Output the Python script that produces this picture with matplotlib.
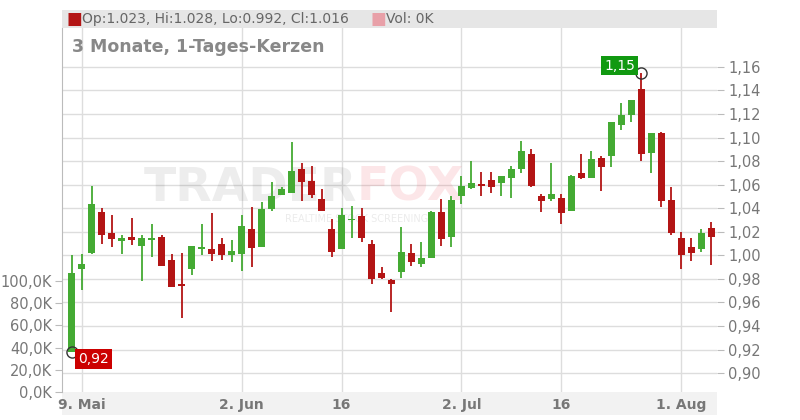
import matplotlib
matplotlib.use("Agg")
import matplotlib.pyplot as plt
from matplotlib.patches import Rectangle

opens = [0.918, 0.988, 1.002, 1.037, 1.019, 1.012, 1.016, 1.008, 1.013, 1.016, 0.996, 0.976, 0.988,
         1.005, 1.005, 1.010, 1.000, 1.001, 1.022, 1.007, 1.039, 1.051, 1.053, 1.073, 1.063, 1.048,
         1.022, 1.005, 1.030, 1.033, 1.010, 0.985, 0.979, 0.986, 1.002, 0.993, 0.998, 1.037, 1.016,
         1.050, 1.057, 1.060, 1.064, 1.061, 1.066, 1.073, 1.086, 1.050, 1.048, 1.049, 1.038, 1.070,
         1.066, 1.083, 1.084, 1.111, 1.119, 1.141, 1.087, 1.104, 1.047, 1.015, 1.007, 1.005, 1.023]
highs = [1.000, 1.001, 1.059, 1.040, 1.034, 1.017, 1.032, 1.017, 1.027, 1.017, 1.001, 1.002, 1.008,
         1.027, 1.036, 1.015, 1.013, 1.034, 1.041, 1.045, 1.062, 1.058, 1.096, 1.078, 1.076, 1.056,
         1.031, 1.040, 1.042, 1.040, 1.013, 0.990, 0.980, 1.024, 1.010, 1.011, 1.038, 1.048, 1.050,
         1.067, 1.080, 1.071, 1.071, 1.067, 1.076, 1.097, 1.090, 1.052, 1.078, 1.052, 1.068, 1.086,
         1.089, 1.084, 1.113, 1.129, 1.132, 1.155, 1.104, 1.105, 1.058, 1.020, 1.015, 1.022, 1.028]
lows = [0.918, 0.971, 1.001, 1.010, 1.007, 1.001, 1.009, 0.978, 0.999, 0.991, 0.973, 0.947, 0.983,
        1.000, 0.995, 0.996, 0.994, 0.987, 0.990, 1.007, 1.038, 1.051, 1.053, 1.046, 1.049, 1.038,
        0.999, 1.005, 1.015, 1.011, 0.976, 0.980, 0.952, 0.981, 0.991, 0.990, 0.998, 1.008, 1.007,
        1.044, 1.056, 1.050, 1.053, 1.050, 1.049, 1.070, 1.058, 1.037, 1.046, 1.027, 1.038, 1.065,
        1.066, 1.055, 1.075, 1.106, 1.113, 1.080, 1.070, 1.041, 1.017, 0.988, 0.995, 1.003, 0.992]
closes = [0.985, 0.993, 1.044, 1.017, 1.014, 1.015, 1.013, 1.015, 1.015, 0.991, 0.973, 0.974, 1.008,
          1.007, 1.001, 1.000, 1.004, 1.025, 1.006, 1.039, 1.050, 1.056, 1.072, 1.062, 1.051, 1.038,
          1.003, 1.034, 1.031, 1.015, 0.980, 0.981, 0.976, 1.003, 0.994, 0.998, 1.037, 1.014, 1.047,
          1.059, 1.061, 1.059, 1.058, 1.067, 1.073, 1.089, 1.059, 1.046, 1.052, 1.036, 1.067, 1.066,
          1.082, 1.075, 1.113, 1.119, 1.132, 1.086, 1.104, 1.046, 1.019, 1.000, 1.002, 1.019, 1.016]

date_idx = [1, 17, 27, 39, 49, 61]
date_labels = ["9. Mai", "2. Jun", "16", "2. Jul", "16", "1. Aug"]
price_ticks = [0.90, 0.92, 0.94, 0.96, 0.98, 1.00, 1.02, 1.04, 1.06, 1.08, 1.10, 1.12, 1.14, 1.16]
vol_ticks = [0, 20, 40, 60, 80, 100]

GREEN = "#44aa33"
RED = "#b31515"
GRID = "#dddddd"
TXT = "#777777"

fig = plt.figure(figsize=(8, 4.2), dpi=100)
fig.patch.set_facecolor("white")

# header strip and bottom strip
fig.patches.append(Rectangle((62/800, 392/420), 655/800, 18/420, transform=fig.transFigure,
                             facecolor="#e6e6e6", edgecolor="none", zorder=-5))
fig.patches.append(Rectangle((62/800, 5/420), 655/800, 23/420, transform=fig.transFigure,
                             facecolor="#f2f2f2", edgecolor="none", zorder=-5))

ax = fig.add_axes([62/800, 28/420, 655/800, 364/420])
ax.set_facecolor("none")
n = len(opens)
ax.set_xlim(-1, n - 0.4)
ax.set_ylim(0.884, 1.193)

# volume axis on the left (created first so it does not steal the price ticks)
vax = ax.twinx()
vax.set_ylim(0, 328)
vax.yaxis.tick_left()
vax.yaxis.set_label_position("left")
vax.set_yticks(vol_ticks)
vax.set_yticklabels([f"{v:.1f}K".replace(".", ",") for v in vol_ticks])
vax.tick_params(axis="y", labelcolor=TXT, color="#bbbbbb", labelsize=10.5, length=5, pad=2,
                left=True, labelleft=True, right=False, labelright=False)
for s in vax.spines.values():
    s.set_visible(False)
ax.set_zorder(vax.get_zorder() + 1)

for p in price_ticks:
    ax.axhline(p, color=GRID, lw=1, zorder=0)
for i in date_idx:
    ax.axvline(i, color=GRID, lw=1, zorder=0)

for i in range(n):
    o, h, l, c = opens[i], highs[i], lows[i], closes[i]
    col = GREEN if c >= o else RED
    ax.vlines(i, l, h, color=col, lw=1.3, zorder=3)
    lo, hi = min(o, c), max(o, c)
    ax.add_patch(Rectangle((i - 0.35, lo), 0.7, max(hi - lo, 0.0012), facecolor=col,
                           edgecolor="none", zorder=4))

# watermark
ax.text(0.45, 0.56, "TRADER", transform=ax.transAxes, fontsize=34, fontweight="bold",
        color="#000000", alpha=0.07, ha="right", va="center", zorder=1)
ax.text(0.45, 0.56, "FOX", transform=ax.transAxes, fontsize=34, fontweight="bold",
        color="#ee3344", alpha=0.12, ha="left", va="center", zorder=1)
ax.text(0.45, 0.475, "REALTIME STOCK SCREENING", transform=ax.transAxes, fontsize=7,
        color="#000000", alpha=0.08, ha="center", va="center", zorder=1)

# min / max markers
imin = lows.index(min(lows))
imax = highs.index(max(highs))
ax.plot(imin, lows[imin], "o", mfc="none", mec="#333333", ms=8, zorder=6)
ax.plot(imax, highs[imax], "o", mfc="none", mec="#333333", ms=8, zorder=6)
ax.text(imin + 0.6, lows[imin] - 0.006, "0,92", color="white", fontsize=10, ha="left", va="center",
        bbox=dict(facecolor="#cc0000", edgecolor="none", pad=2), zorder=7)
ax.text(imax - 0.6, highs[imax] + 0.006, "1,15", color="white", fontsize=10, ha="right", va="center",
        bbox=dict(facecolor="#119911", edgecolor="none", pad=2), zorder=7)

for s in ax.spines.values():
    s.set_visible(False)
ax.spines["left"].set_visible(True)
ax.spines["left"].set_color("#bbbbbb")

ax.set_yticks(price_ticks)
ax.set_yticklabels([f"{p:.2f}".replace(".", ",") for p in price_ticks])
ax.tick_params(axis="y", labelcolor=TXT, color="#bbbbbb", labelsize=10.5, length=5, pad=3,
               left=False, labelleft=False, right=True, labelright=True)
ax.set_xticks(date_idx)
ax.set_xticklabels(date_labels, fontweight="bold")
ax.tick_params(axis="x", colors=TXT, labelsize=10, length=0, pad=4)

# header legend and title
fig.text(66/800, 1 - 19/420, "\u25A0", color="#b31515", fontsize=12, va="center")
fig.text(82/800, 1 - 19/420, "Op:1.023, Hi:1.028, Lo:0.992, Cl:1.016", color="#666666", fontsize=10, va="center")
fig.text(370/800, 1 - 19/420, "\u25A0", color="#e8a0a8", fontsize=12, va="center")
fig.text(386/800, 1 - 19/420, "Vol: 0K", color="#666666", fontsize=10, va="center")
fig.text(72/800, 1 - 47/420, "3 Monate, 1-Tages-Kerzen", color="#888888", fontsize=12.5,
         fontweight="bold", va="center")

fig.savefig("out.png", dpi=100)
